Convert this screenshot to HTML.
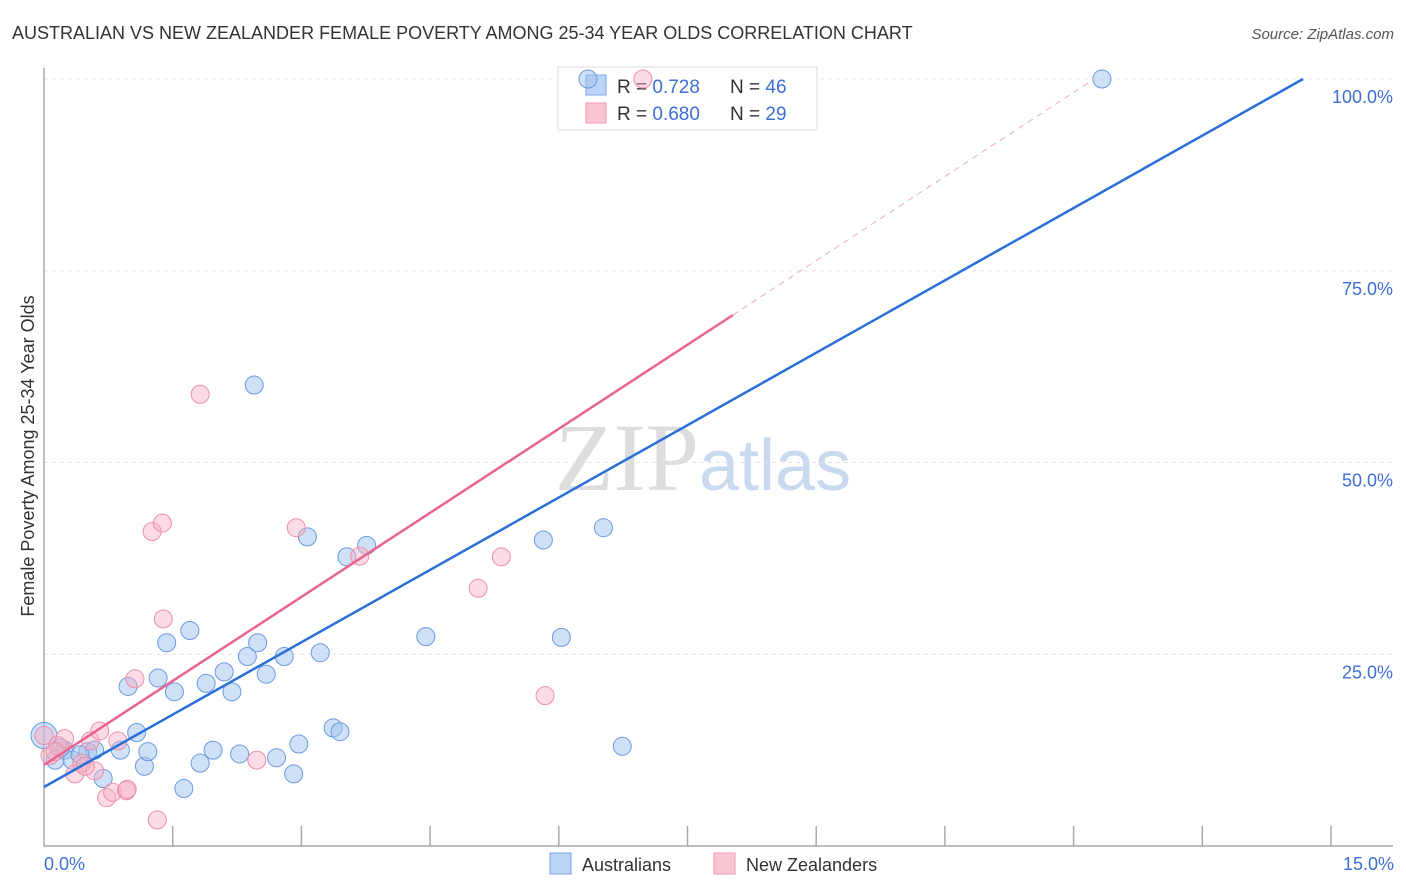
<!DOCTYPE html>
<html><head><meta charset="utf-8"><style>
body{margin:0;background:#fff;font-family:"Liberation Sans",sans-serif;}
svg{display:block}
</style></head><body>
<svg width="1406" height="892" xmlns="http://www.w3.org/2000/svg" id="chart">
<text x="12" y="39" font-size="18" fill="#333">AUSTRALIAN VS NEW ZEALANDER FEMALE POVERTY AMONG 25-34 YEAR OLDS CORRELATION CHART</text>
<text x="1394" y="39" font-size="15" fill="#555" text-anchor="end" font-style="italic">Source: ZipAtlas.com</text>
<text x="555" y="490" font-size="96" fill="#ddd" font-family="Liberation Serif,serif">ZIP<tspan fill="#c9d9ef" font-family="Liberation Sans,sans-serif" font-size="72">atlas</tspan></text>
<g id="grid"></g>
<g id="axes"></g>
<text transform="translate(34,456) rotate(-90)" font-size="18" fill="#333" text-anchor="middle">Female Poverty Among 25-34 Year Olds</text>
<text x="44" y="870" font-size="18" fill="#3d6fd6">0.0%</text>
<text x="1394" y="870" font-size="18" fill="#3d6fd6" text-anchor="end">15.0%</text>
<g>
<rect x="558" y="67" width="259" height="63" fill="#fff" stroke="#ddd"/>
<rect x="586" y="75" width="20" height="20" fill="#bcd4f5" stroke="#7aa4e4"/>
<rect x="586" y="103" width="20" height="20" fill="#f9c6d4" stroke="#ec9ab2"/>
<text x="617" y="93" font-size="19" fill="#333">R = <tspan fill="#3d6fd6">0.728</tspan><tspan x="730">N = </tspan><tspan fill="#3d6fd6">46</tspan></text>
<text x="617" y="120" font-size="19" fill="#333">R = <tspan fill="#3d6fd6">0.680</tspan><tspan x="730">N = </tspan><tspan fill="#3d6fd6">29</tspan></text>
</g>
<g id="pts"></g>
<g id="lines"></g>
<g>
<rect x="550" y="853" width="21" height="21" fill="#bcd4f5" stroke="#7aa4e4"/>
<text x="582" y="871" font-size="18" fill="#333">Australians</text>
<rect x="714" y="853" width="21" height="21" fill="#f9c6d4" stroke="#ec9ab2"/>
<text x="746" y="871" font-size="18" fill="#333">New Zealanders</text>
</g>
</svg>
<script>
const yTicks=[25,50,75,100];
const yTickLabels=["25.0%","50.0%","75.0%","100.0%"];
const xTicks=[1.5,3,4.5,6,7.5,9,10.5,12,13.5,15];
const ausX=[0,0.13,0.24,0.33,0.51,0.59,0.69,0.89,0.98,1.08,1.17,1.21,1.33,1.43,1.52,1.7,1.63,1.82,1.89,1.97,2.1,2.19,2.28,2.37,2.45,2.49,2.59,2.71,2.8,2.91,2.97,3.07,3.22,3.37,3.45,3.53,3.76,4.45,5.82,6.03,6.52,6.74,6.34,12.33,0.19,0.42];
const ausY=[14.4,11.2,12.5,11.2,12.3,12.5,8.8,12.5,20.8,14.8,10.4,12.3,21.9,26.5,20.1,28.1,7.5,10.8,21.2,12.5,22.7,20.1,12,24.7,60.1,26.5,22.4,11.5,24.7,9.4,13.3,40.3,25.2,15.4,14.9,37.7,39.2,27.3,39.9,27.2,41.5,13,100,100,12.8,11.9];
const nzX=[0,0.07,0.16,0.24,0.36,0.44,0.54,0.59,0.65,0.73,0.8,0.86,0.96,0.97,1.06,1.26,1.32,1.38,1.39,1.82,2.48,2.94,3.68,5.06,5.33,5.84,6.98,0.48,0.13];
const nzY=[14.4,11.8,13.1,14,9.4,10.8,13.7,9.8,15,6.3,7,13.7,7.2,7.4,21.8,41,3.4,42.1,29.6,58.9,11.2,41.5,37.8,33.6,37.7,19.6,100,10.4,12.3];
const svg=document.getElementById('chart');
const X=v=>44+v*85.8, Y=v=>846-v*7.67;
const NS='http://www.w3.org/2000/svg';
function mk(t,a,p){const e=document.createElementNS(NS,t);for(const k in a)e.setAttribute(k,a[k]);document.getElementById(p).appendChild(e);return e;}
yTicks.forEach((t,i)=>{
 const l=mk('line',{x1:44,x2:1393,y1:Y(t),y2:Y(t),stroke:'#e4e4e4','stroke-dasharray':'4,4'},'grid');
 
 
 const tx=mk('text',{x:1393,y:Y(t)+24,'font-size':18,fill:'#3d6fd6','text-anchor':'end'},'grid');
 tx.textContent=yTickLabels[i];
 
 
});
const ax=mk('path',{d:'M44,68V846H1393',fill:'none',stroke:'#aaa','stroke-width':1.5},'axes');


xTicks.forEach(t=>{
 const l=mk('line',{x1:X(t),x2:X(t),y1:826,y2:846,stroke:'#aaa','stroke-width':1.5},'axes');
 
 
});
ausX.forEach((x,i)=>{
 const c=mk('circle',{cx:X(x),cy:Y(ausY[i]),r:i==0?13:9,fill:'rgba(160,196,240,0.5)',stroke:'#6a9be0','stroke-width':1},'pts');
 
 
});
nzX.forEach((x,i)=>{
 const c=mk('circle',{cx:X(x),cy:Y(nzY[i]),r:9,fill:'rgba(246,176,196,0.45)',stroke:'#ec8fac','stroke-width':1},'pts');
 
 
});
const b=mk('line',{x1:44,y1:787,x2:1303,y2:79,stroke:'#2a70d8','stroke-width':2.5},'lines');


const p=mk('line',{x1:44,y1:765,x2:733,y2:315,stroke:'#e8648e','stroke-width':2.5},'lines');


const pd=mk('line',{x1:733,y1:315,x2:1094,y2:79,stroke:'#f0aac0','stroke-width':1,'stroke-dasharray':'6,5'},'lines');


</script>
</body></html>
